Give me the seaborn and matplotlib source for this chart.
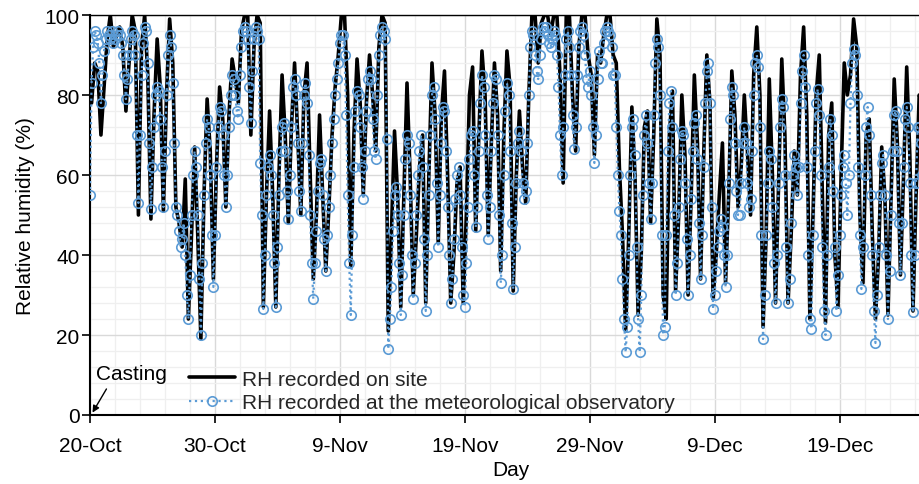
import matplotlib
matplotlib.use("Agg")
import matplotlib.pyplot as plt
import matplotlib.dates as mdates
from matplotlib.ticker import MultipleLocator
import pandas as pd
import seaborn as sns

# Relative humidity recorded on site, 6-hourly (03, 09, 15, 21 h), one row per day from 20-Oct
site_rh = [
    78, 88, 86, 70,   82, 94, 100, 92,   95, 97, 92, 76,   88, 100, 96, 50,
    92, 100, 85, 49,  75, 94, 82, 51,    80, 99, 88, 52,   48, 42, 59, 24,
    45, 67, 45, 19,   55, 79, 66, 34,    62, 82, 74, 52,   75, 89, 84, 78,
    96, 100, 100, 70, 92, 100, 98, 27,   55, 76, 55, 27,   60, 85, 70, 48,
    72, 88, 70, 50,   80, 88, 60, 34,    50, 75, 55, 36,   52, 70, 82, 90,
    100, 100, 80, 37, 70, 89, 78, 55,    78, 90, 80, 66,   92, 100, 98, 21,
    45, 71, 55, 27,   55, 83, 60, 30,    45, 62, 70, 28,   60, 88, 75, 43,
    75, 86, 60, 28,   40, 58, 62, 28,    50, 80, 87, 46,   70, 91, 80, 45,
    68, 88, 75, 36,   70, 91, 82, 31,    60, 76, 62, 53,   80, 100, 100, 88,
    98, 100, 100, 95, 100, 100, 85, 58,  100, 100, 80, 66, 92, 100, 100, 90,
    85, 65, 90, 88,   95, 100, 100, 90,  88, 62, 45, 21,   45, 77, 60, 25,
    40, 72, 76, 48,   70, 99, 90, 30,    24, 70, 81, 31,   50, 80, 65, 30,
    55, 85, 68, 34,   65, 90, 78, 29,    40, 55, 68, 33,   55, 86, 75, 52,
    62, 80, 66, 50,   85, 97, 80, 22,    45, 84, 60, 28,   58, 89, 70, 28,
    45, 66, 55, 85,   97, 75, 24, 50,    80, 90, 55, 23,   70, 78, 40, 27,
    60, 88, 80, 85,   99, 92, 50, 33,    70, 74, 45, 24,   40, 67, 55, 25,
    55, 84, 68, 35,   60, 87, 65, 26,    55, 80, 78, 60,   52, 82, 70, 40,
]

# Relative humidity at the meteorological observatory, 3-hourly, one row per day from 20-Oct
obs_rh = [
    55, 83, 92, 96, 95, 93, 88, 78,
    85, 91, 94, 96, 95, 94, 96, 93,
    94, 95, 96, 95, 93, 90, 85, 79,
    84, 90, 94, 96, 95, 90, 70, 53,
    70, 85, 93, 97, 96, 88, 68, 51.5,
    62, 72, 80, 82, 81, 74, 62, 52,
    66, 80, 90, 95, 92, 83, 68, 52,
    50, 46, 42, 44, 48, 40, 30, 24,
    35, 50, 60, 66, 62, 50, 34, 20,
    38, 55, 68, 74, 72, 60, 45, 32,
    45, 62, 72, 77, 76, 70, 60, 52,
    60, 72, 80, 85, 84, 80, 76, 74,
    85, 92, 96, 97, 96, 94, 82, 73,
    86, 94, 97, 96, 94, 63, 50, 26.5,
    40, 55, 62, 65, 60, 50, 38, 27,
    42, 55, 66, 72, 73, 66, 56, 49,
    60, 72, 82, 84, 80, 68, 56, 51,
    68, 80, 83, 78, 65, 50, 38, 29,
    38, 46, 56, 63, 64, 55, 44, 36,
    45, 52, 60, 68, 74, 80, 84, 88,
    93, 95, 95, 90, 75, 55, 38, 25,
    45, 62, 76, 81, 80, 72, 62, 54,
    66, 76, 84, 86, 84, 74, 66, 64,
    80, 90, 95, 97, 96, 94, 69, 16.5,
    24, 32, 46, 55, 57, 50, 38, 25,
    35, 50, 64, 70, 68, 55, 40, 29,
    38, 50, 60, 66, 70, 62, 44, 26,
    40, 55, 70, 80, 82, 74, 58, 42,
    55, 68, 77, 76, 66, 52, 40, 28,
    34, 44, 54, 60, 62, 55, 42, 30,
    27, 38, 52, 64, 70, 71, 60, 47,
    52, 66, 78, 85, 82, 70, 55, 44,
    52, 66, 78, 85, 84, 70, 50, 33,
    40, 60, 76, 83, 80, 66, 48, 31.5,
    42, 58, 68, 71, 66, 58, 54, 56,
    68, 80, 92, 96, 95, 90, 86, 84,
    90, 94, 97, 96, 97, 95, 93, 92,
    94, 96, 95, 90, 82, 70, 60, 72,
    85, 94, 96, 92, 85, 75, 66.5, 72,
    85, 92, 96, 97, 95, 90, 84, 82,
    86, 80, 72, 63, 70, 84, 91, 88,
    88, 93, 96, 97, 96, 95, 92, 85,
    85, 72, 60, 51, 45, 34, 24, 15.7,
    22, 40, 60, 72, 74, 65, 42, 24,
    15.7, 30, 55, 70, 75, 68, 58, 49,
    58, 75, 88, 94, 92, 80, 45, 20,
    22, 45, 66, 78, 81, 72, 50, 30,
    38, 52, 64, 71, 70, 58, 44, 30,
    40, 54, 66, 73, 75, 64, 48, 34,
    45, 62, 78, 86, 88, 78, 52, 26.5,
    30, 36, 42, 46, 49, 47, 40, 32,
    40, 58, 74, 82, 80, 68, 56, 50,
    50, 58, 68, 72, 68, 58, 52, 54,
    66, 80, 88, 90, 87, 72, 45, 19,
    30, 45, 58, 66, 64, 52, 38, 28,
    40, 58, 72, 79, 77, 60, 42, 28,
    34, 48, 60, 65, 62, 55, 62, 78,
    86, 90, 82, 62, 40, 24, 21.5, 45,
    66, 78, 81.5, 75, 60, 42, 26, 20,
    40, 62, 74, 70, 56, 42, 26, 35,
    45, 55, 62, 65, 58, 50, 60, 78,
    88, 91.5, 90, 80, 62, 45, 31.5, 42,
    60, 72, 77, 70, 55, 40, 26, 18,
    30, 42, 55, 63, 65, 55, 40, 24,
    36, 50, 66, 75, 76, 66, 48, 35,
    48, 62, 74, 77, 72, 58, 40, 25.7,
    40, 58, 72, 72, 68, 60, 50, 45,
    50, 64, 76, 78, 70, 56, 44, 38,
]

start = pd.Timestamp("2018-10-20")
site_time = pd.date_range(start + pd.Timedelta(hours=3), periods=len(site_rh), freq="6h")
obs_time = pd.date_range(start, periods=len(obs_rh), freq="3h")

x_ticks = pd.date_range(start, periods=7, freq="10D")
y_ticks = [0, 20, 40, 60, 80, 100]

sns.set_theme(style="white")
plt.rcParams["font.family"] = ["Liberation Sans", "DejaVu Sans"]

blue = "#5B9BD5"
fs = 15

fig = plt.figure(figsize=(9.2, 4.85), dpi=100)
# the plotting area runs a little past the right edge of the figure
ax = fig.add_axes([90 / 920, 69 / 485, 842 / 920, 400 / 485])

sns.lineplot(x=site_time, y=site_rh, ax=ax, color="black", lw=2.6,
             label="RH recorded on site", zorder=2)
sns.lineplot(x=obs_time, y=obs_rh, ax=ax, color=blue, lw=1.6, linestyle=":",
             marker="o", markersize=6.8, markerfacecolor="none",
             markeredgecolor=blue, markeredgewidth=1.2,
             label="RH recorded at the meteorological observatory", zorder=3)

ax.set_xlim(start, start + pd.Timedelta(days=67.4))
ax.set_ylim(0, 100)
ax.set_xticks(x_ticks)
ax.xaxis.set_major_formatter(mdates.DateFormatter("%-d-%b"))
ax.set_xticks(pd.date_range(start, periods=34, freq="2D"), minor=True)
ax.set_yticks(y_ticks)
ax.yaxis.set_minor_locator(MultipleLocator(4))

ax.set_axisbelow(True)
ax.grid(which="major", color="#d9d9d9", lw=1.0)
ax.grid(which="minor", color="#efefef", lw=0.9)

ax.tick_params(which="major", direction="out", length=6, width=1.2,
               color="black", labelsize=fs, labelcolor="black",
               bottom=True, left=True)
ax.tick_params(axis="x", which="major", pad=9)
ax.tick_params(axis="y", which="major", pad=1.5)
ax.tick_params(which="minor", length=0)

for side in ("left", "bottom"):
    ax.spines[side].set_color("black")
    ax.spines[side].set_linewidth(1.5)
ax.spines["top"].set_color("black")
ax.spines["top"].set_linewidth(1.0)
ax.spines["right"].set_visible(False)

ax.set_xlabel("Day", fontsize=fs, color="black", labelpad=4)
ax.set_ylabel("Relative humidity (%)", fontsize=fs, color="black", labelpad=7)

ax.annotate("Casting", xy=(start + pd.Timedelta(days=0.2), 0.6),
            xytext=(start + pd.Timedelta(days=0.45), 10.3),
            fontsize=fs, color="black", ha="left", va="center",
            arrowprops=dict(arrowstyle="-|>", color="black", lw=1.0,
                            shrinkA=2, shrinkB=0, mutation_scale=10,
                            relpos=(0.2, 0.0)))

ax.legend(loc="lower left", bbox_to_anchor=(0.117, 0.008), frameon=False,
          fontsize=fs, handlelength=2.25, handletextpad=0.3,
          labelspacing=0.2, borderpad=0, borderaxespad=0)

fig.savefig("out.png", dpi=100)
